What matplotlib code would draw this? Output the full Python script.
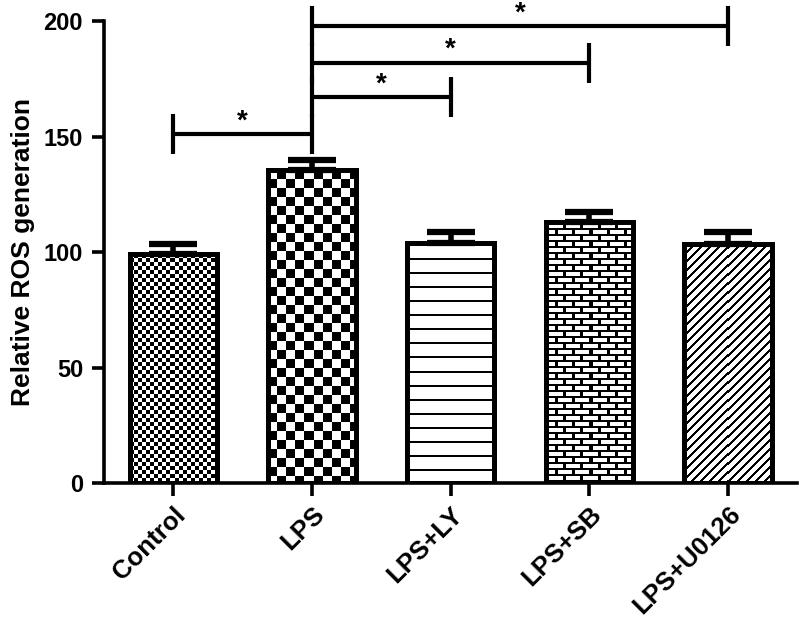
import numpy as np
import matplotlib
matplotlib.use('Agg')
import matplotlib.pyplot as plt

plt.rcParams['font.family'] = ['Liberation Sans', 'DejaVu Sans']

# data
groups = ['Control', 'LPS', 'LPS+LY', 'LPS+SB', 'LPS+U0126']
ros_mean = [99.0, 135.5, 104.0, 113.0, 103.5]
ros_sem = [4.5, 4.5, 4.5, 4.5, 5.0]
textures = ['fine_checker', 'checker', 'hlines', 'brick', 'diag']
# significance comparisons: (group a, group b, bracket height)
comparisons = [(0, 1, 151), (1, 2, 167), (1, 3, 182), (1, 4, 198)]
sig_labels = ['*', '*', '*', '*']


def make_texture(kind, w, h):
    """Black/white pixel texture (1 = black) of w x h pixels."""
    r, c = np.mgrid[0:h, 0:w]
    if kind == 'fine_checker':
        s = 4
        return ((r // s + c // s) % 2).astype(float)
    if kind == 'checker':
        s = 9
        return ((r // s + c // s) % 2).astype(float)
    if kind == 'hlines':
        # count from bottom so lines sit at a fixed spacing
        rb = h - 1 - r
        return ((rb % 14) >= 12).astype(float)
    if kind == 'brick':
        rh, bw = 6, 17
        row = r // rh
        mortar_h = (r % rh) < 2
        shift = np.where(row % 2 == 0, 0, bw // 2)
        mortar_v = ((c + shift) % bw) < 3
        return (mortar_h | mortar_v).astype(float)
    if kind == 'diag':
        return (((c + r) % 9) < 3).astype(float)
    return np.zeros((h, w))


fig = plt.figure(figsize=(7.99, 6.24), dpi=100)
ax = fig.add_axes([0.130, 0.226, 0.868, 0.740])

x = np.arange(len(groups))
bar_w = 0.63
ax.set_xlim(-0.5, len(groups) - 0.5)
ax.set_ylim(0, 200)

bars = ax.bar(x, ros_mean, width=bar_w, facecolor='white', edgecolor='black',
              linewidth=3.6, zorder=3)
for b in bars:
    b.set_facecolor('none')

# fill each bar with its pixel texture, clipped to the bar
for b, kind in zip(bars, textures):
    x0, y0 = b.get_x(), b.get_y()
    x1, y1 = x0 + b.get_width(), y0 + b.get_height()
    p0 = ax.transData.transform((x0, y0))
    p1 = ax.transData.transform((x1, y1))
    w_px = int(round(abs(p1[0] - p0[0])))
    h_px = int(round(abs(p1[1] - p0[1])))
    tex = make_texture(kind, w_px, h_px)
    im = ax.imshow(tex, extent=(x0, x1, y0, y1), cmap='gray_r', vmin=0, vmax=1,
                   interpolation='nearest', aspect='auto', zorder=2)
    im.set_clip_path(b)

ax.set_xlim(-0.5, len(groups) - 0.5)
ax.set_ylim(0, 200)

ax.errorbar(x, ros_mean, yerr=[np.zeros(len(x)), ros_sem], fmt='none',
            ecolor='black', elinewidth=4, capsize=17, capthick=4.5, zorder=2.5)

# significance brackets
half = 8.7
for (a, b2, yb), lab in zip(comparisons, sig_labels):
    ax.plot([x[a], x[b2]], [yb, yb], color='black', lw=3, clip_on=False,
            solid_capstyle='butt', zorder=4)
    for xi in (x[a], x[b2]):
        ax.plot([xi, xi], [yb - half, yb + half], color='black', lw=3,
                clip_on=False, solid_capstyle='butt', zorder=4)
    ax.text((x[a] + x[b2]) / 2, yb + 5.5, lab, ha='center', va='center',
            fontsize=20, fontweight='bold', color='black', zorder=5)

ax.spines['top'].set_visible(False)
ax.spines['right'].set_visible(False)
ax.spines['left'].set_linewidth(2.6)
ax.spines['bottom'].set_linewidth(2.6)

ax.set_yticks([0, 50, 100, 150, 200])
ax.set_xticks(x)
ax.set_xticklabels(groups, rotation=45, ha='right', va='top',
                   rotation_mode='anchor')
ax.tick_params(axis='both', length=9, width=2.6, pad=6)
ax.tick_params(axis='y', labelsize=17)
ax.tick_params(axis='x', labelsize=18.5, pad=5)
for t in ax.get_xticklabels() + ax.get_yticklabels():
    t.set_fontweight('bold')

ax.set_ylabel('Relative ROS generation', fontsize=19, fontweight='bold',
              labelpad=6)

fig.savefig('out.png', dpi=100)
